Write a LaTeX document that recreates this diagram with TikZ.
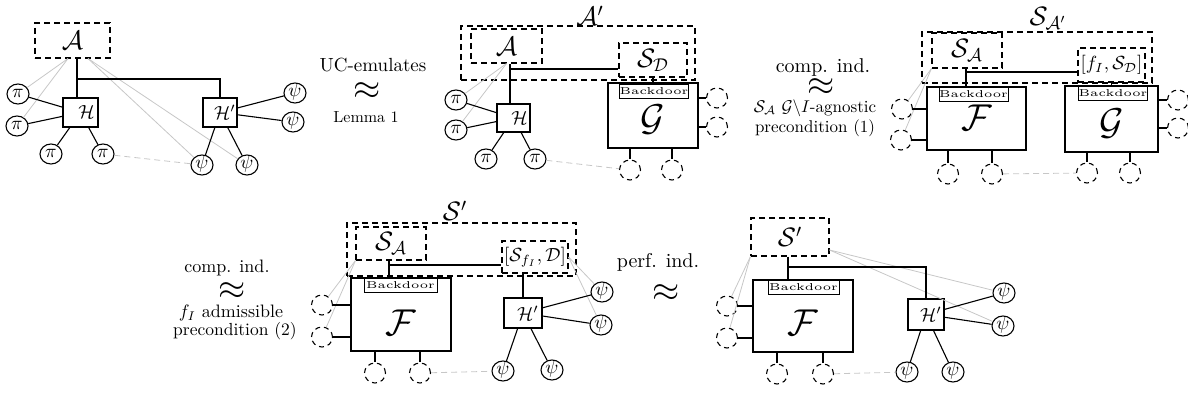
\documentclass[tikz,border=0pt]{standalone}
\usepackage{graphicx}
\usetikzlibrary{shapes.geometric}
\newcommand{\SB}[2]{\scalebox{#1}{#2}}
\newcommand{\BL}[2]{\raisebox{-#1}[0pt][0pt]{\SB{1.8}{\huge$\mathcal{#2}$}}}
\newcommand{\BD}{\scalebox{2.45}[2.0]{\tiny Backdoor}}
\tikzset{
 ln/.style={line width=1.1pt, black},
 gl/.style={line width=0.8pt, black!22},
 gld/.style={gl, dash pattern=on 6pt off 4pt},
 sbox/.style={draw, line width=1.1pt, inner sep=0pt},
 dbox/.style={draw, line width=1.1pt, dash pattern=on 6pt off 4pt, inner sep=0pt},
 bd/.style={draw, line width=1.0pt, inner sep=0pt, minimum width=69pt, minimum height=14pt},
 circ/.style={ellipse, draw, line width=1.1pt, minimum width=22pt, minimum height=20pt, inner sep=0pt, text height=6pt, text depth=-2pt},
 dcirc/.style={ellipse, draw, line width=1.1pt, dash pattern=on 5pt off 4pt, minimum width=21pt, minimum height=20pt, inner sep=0pt},
 lab/.style={inner sep=0pt},
}
\begin{document}
\begin{tikzpicture}[x=1pt,y=-1pt]
\path[use as bounding box] (0,0) rectangle (1188,396);

% ---------------- Diagram 1 ----------------
\node[dbox, minimum width=75pt, minimum height=35pt] (A1) at (72.5,40.5) {\SB{1.85}{\Large$\mathcal{A}$}};
\node[sbox, minimum width=35pt, minimum height=29pt] (H1) at (80.5,112.5) {\hspace{12pt}\SB{1.9}{$\mathcal{H}$}};
\node[sbox, minimum width=34pt, minimum height=29pt] (Hp1) at (220,112.5) {\hspace{10pt}\SB{1.9}{$\mathcal{H}'$}};
\node[circ] (p11) at (18,94) {\SB{1.9}{$\pi$}};
\node[circ] (p12) at (17,126) {\SB{1.9}{$\pi$}};
\node[circ] (p13) at (51,154) {\SB{1.9}{$\pi$}};
\node[circ] (p14) at (103,154) {\SB{1.9}{$\pi$}};
\node[circ] (s11) at (295,93) {\SB{1.9}{$\psi$}};
\node[circ] (s12) at (293,122) {\SB{1.9}{$\psi$}};
\node[circ] (s13) at (202,165) {\SB{1.9}{$\psi$}};
\node[circ] (s14) at (247,165) {\SB{1.9}{$\psi$}};
\coordinate (j1) at (77,79);
\coordinate (g1a) at ([xshift=-4.5pt]A1.south);
\coordinate (g1b) at ([xshift=15.5pt]A1.south);
\draw[gl] (g1a) -- (p11);
\draw[gl] (g1a) -- (p12);
\draw[gl] (g1b) -- (s13);
\draw[gl] (g1b) -- (s14);
\draw[gld] (p14) -- (s13);
\draw[ln] (A1.south -| j1) -- (H1.north -| j1);
\draw[ln] (j1) -| (Hp1.north);
\foreach \n in {p11,p12,p13,p14} \draw[ln] (H1) -- (\n);
\foreach \n in {s11,s12,s13,s14} \draw[ln] (Hp1) -- (\n);

% label 1
\node[lab, scale=1.9] (t1a) at (373,65) {UC-emulates};
\node[lab, scale=3.5] (t1b) at (367,91) {$\approx$};
\node[lab, scale=1.6] (t1c) at (366,117) {Lemma 1};

% ---------------- Diagram 2 ----------------
\node[dbox, minimum width=234pt, minimum height=54pt] (Ap) at (578,53) {};
\node[lab] (lAp) at (590,16) {\SB{1.85}{\Large$\mathcal{A}'$}};
\node[dbox, minimum width=71pt, minimum height=34pt] (A2) at (506.5,46) {\SB{1.85}{\Large$\mathcal{A}$}};
\node[dbox, minimum width=68pt, minimum height=34pt] (SD2) at (653,60) {\SB{1.85}{\Large$\mathcal{S}_{\mathcal{D}}$}};
\node[sbox, minimum width=33pt, minimum height=28pt] (H2) at (513.5,118) {\hspace{12pt}\SB{1.9}{$\mathcal{H}$}};
\node[sbox, minimum width=90pt, minimum height=65pt] (G2) at (653,115.5) {\BL{15pt}{G}};
\node[bd, minimum width=66pt] (BD2) at (654,91) {\BD};
\node[circ] (p21) at (456,100) {\SB{1.9}{$\pi$}};
\node[circ] (p22) at (456,130) {\SB{1.9}{$\pi$}};
\node[circ] (p23) at (486,159) {\SB{1.9}{$\pi$}};
\node[circ] (p24) at (535,159) {\SB{1.9}{$\pi$}};
\node[dcirc] (dc21) at (717,98) {};
\node[dcirc] (dc22) at (717,127) {};
\node[dcirc] (dc23) at (630,170) {};
\node[dcirc] (dc24) at (672,170) {};
\coordinate (j2) at (510,69);
\draw[gl] (A2.south) -- (p21);
\draw[gl] (A2.south) -- (p22);
\draw[gld] (p24) -- (dc23);
\draw[ln] (A2.south -| j2) -- (H2.north -| j2);
\draw[ln] (j2) -- (j2 -| SD2.west);
\draw[ln] (SD2.south) -- (SD2.south |- BD2.north);
\foreach \n in {p21,p22,p23,p24} \draw[ln] (H2) -- (\n);
\draw[ln] (G2.east |- dc21) -- (dc21.west);
\draw[ln] (G2.east |- dc22) -- (dc22.west);
\draw[ln] (G2.south -| dc23) -- (dc23.north);
\draw[ln] (G2.south -| dc24) -- (dc24.north);

% label 2
\node[lab, scale=2] (t2a) at (823,67) {comp. ind.};
\node[lab, scale=3.5] (t2b) at (821,87) {$\approx$};
\node[lab, scale=1.7] (t2c) at (815,108) {$\mathcal{S}_{\mathcal{A}}$ $\mathcal{G}\backslash I$-agnostic};
\node[lab, scale=1.7] (t2d) at (815,128) {precondition (1)};

% ---------------- Diagram 3 ----------------
\node[dbox, minimum width=230pt, minimum height=51pt] (SAp) at (1037,57.5) {};
\node[lab] (lSAp) at (1048,18) {\SB{1.85}{\Large$\mathcal{S}_{\mathcal{A}'}$}};
\node[dbox, minimum width=70pt, minimum height=35pt] (SA3) at (967,50.5) {\SB{1.85}{\Large$\mathcal{S}_{\mathcal{A}}$}};
\node[dbox, minimum width=67pt, minimum height=34pt] (fS3) at (1111.5,65) {\SB{1.9}{$[f_I,\mathcal{S}_{\mathcal{D}}]$}};
\node[sbox, minimum width=99pt, minimum height=63pt] (F3) at (976.5,118.5) {\BL{12pt}{F}};
\node[bd] (BDF3) at (973.5,94.5) {\BD};
\node[sbox, minimum width=93pt, minimum height=66pt] (G3) at (1111.5,119) {\BL{15pt}{G}};
\node[bd, minimum width=68pt] (BDG3) at (1113,93.5) {\BD};
\node[dcirc] (dc31) at (902,109) {};
\node[dcirc] (dc32) at (901,140) {};
\node[dcirc] (dc33) at (948,174) {};
\node[dcirc] (dc34) at (992,174) {};
\node[dcirc] (dc35) at (1178,100) {};
\node[dcirc] (dc36) at (1178,128) {};
\node[dcirc] (dc37) at (1087,173) {};
\node[dcirc] (dc38) at (1130,173) {};
\coordinate (j3) at (966,72);
\draw[gl] (SA3.south west) -- (dc31);
\draw[gl] (SA3.south west) -- (dc32);
\draw[gld] (dc34) -- (dc37);
\draw[ln] (SA3.south -| j3) -- (BDF3.north -| j3);
\draw[ln] (j3) -- (j3 -| fS3.west);
\draw[ln] (fS3.south) -- (fS3.south |- BDG3.north);
\draw[ln] (F3.west |- dc31) -- (dc31.east);
\draw[ln] (F3.west |- dc32) -- (dc32.east);
\draw[ln] (F3.south -| dc33) -- (dc33.north);
\draw[ln] (F3.south -| dc34) -- (dc34.north);
\draw[ln] (G3.east |- dc35) -- (dc35.west);
\draw[ln] (G3.east |- dc36) -- (dc36.west);
\draw[ln] (G3.south -| dc37) -- (dc37.north);
\draw[ln] (G3.south -| dc38) -- (dc38.north);

% label 3
\node[lab, scale=1.8] (t3a) at (227,268) {comp. ind.};
\node[lab, scale=3.5] (t3b) at (232,291) {$\approx$};
\node[lab, scale=1.8] (t3c) at (231,313) {$f_I$ admissible};
\node[lab, scale=1.75] (t3d) at (235,331) {precondition (2)};

% ---------------- Diagram 4 ----------------
\node[dbox, minimum width=229pt, minimum height=53pt] (Sp4) at (461.5,249.5) {};
\node[lab] (lSp4) at (455,211) {\SB{1.85}{\Large$\mathcal{S}'$}};
\node[dbox, minimum width=70pt, minimum height=33pt] (SA4) at (391,243.5) {\SB{1.85}{\Large$\mathcal{S}_{\mathcal{A}}$}};
\node[dbox, minimum width=66pt, minimum height=32pt] (SfD4) at (535,257) {\SB{1.9}{$[\mathcal{S}_{f_I},\mathcal{D}]$}};
\node[sbox, minimum width=100pt, minimum height=73pt] (F4) at (401,314.5) {\BL{21pt}{F}};
\node[bd, minimum width=73pt] (BD4) at (400.5,285.5) {\BD};
\node[sbox, minimum width=38pt, minimum height=30pt] (Hp4) at (523,313) {\hspace{10pt}\SB{1.9}{$\mathcal{H}'$}};
\node[circ] (s41) at (602,292) {\SB{1.9}{$\psi$}};
\node[circ] (s42) at (601,325) {\SB{1.9}{$\psi$}};
\node[circ] (s43) at (503,371) {\SB{1.9}{$\psi$}};
\node[circ] (s44) at (552,370) {\SB{1.9}{$\psi$}};
\node[dcirc] (dc41) at (322,305) {};
\node[dcirc] (dc42) at (322,337) {};
\node[dcirc] (dc43) at (375,373) {};
\node[dcirc] (dc44) at (420,373) {};
\coordinate (j4) at (389,265);
\draw[gl] (SA4.south west) -- (dc41);
\draw[gl] (SA4.south west) -- (dc42);
\draw[gl] (SfD4.east) -- (s41);
\draw[gl] (SfD4.east) -- (s42);
\draw[gld] (dc44) -- (s43);
\draw[ln] (SA4.south -| j4) -- (BD4.north -| j4);
\draw[ln] (j4) -- (j4 -| SfD4.west);
\draw[ln] (SfD4.south -| Hp4.north) -- (Hp4.north);
\foreach \n in {s41,s42,s43,s44} \draw[ln] (Hp4) -- (\n);
\draw[ln] (F4.west |- dc41) -- (dc41.east);
\draw[ln] (F4.west |- dc42) -- (dc42.east);
\draw[ln] (F4.south -| dc43) -- (dc43.north);
\draw[ln] (F4.south -| dc44) -- (dc44.north);

% label 4
\node[lab, scale=2] (t4a) at (658,262) {perf. ind.};
\node[lab, scale=3.5] (t4b) at (666,293) {$\approx$};

% ---------------- Diagram 5 ----------------
\node[dbox, minimum width=78pt, minimum height=38pt] (Sp5) at (790,237) {\SB{1.85}{\Large$\mathcal{S}'$}};
\node[sbox, minimum width=100pt, minimum height=72pt] (F5) at (803,316) {\BL{19.6pt}{F}};
\node[bd, minimum width=71pt] (BD5) at (803.5,287.5) {\BD};
\node[sbox, minimum width=36pt, minimum height=31pt] (Hp5) at (926,314.5) {\hspace{10pt}\SB{1.9}{$\mathcal{H}'$}};
\node[circ] (s51) at (1004,293) {\SB{1.9}{$\psi$}};
\node[circ] (s52) at (1003,326) {\SB{1.9}{$\psi$}};
\node[circ] (s53) at (907,372) {\SB{1.9}{$\psi$}};
\node[circ] (s54) at (953,372) {\SB{1.9}{$\psi$}};
\node[dcirc] (dc51) at (727,306) {};
\node[dcirc] (dc52) at (727,338) {};
\node[dcirc] (dc53) at (777,374) {};
\node[dcirc] (dc54) at (823,374) {};
\coordinate (j5) at (788,267);
\coordinate (g5) at ([yshift=-13pt]Sp5.east);
\draw[gl] (Sp5.south west) -- (dc51);
\draw[gl] (Sp5.south west) -- (dc52);
\draw[gl] (g5) -- (s51);
\draw[gl] (g5) -- (s52);
\draw[gld] (dc54) -- (s53);
\draw[ln] (Sp5.south -| j5) -- (BD5.north -| j5);
\draw[ln] (j5) -| (Hp5.north);
\foreach \n in {s51,s52,s53,s54} \draw[ln] (Hp5) -- (\n);
\draw[ln] (F5.west |- dc51) -- (dc51.east);
\draw[ln] (F5.west |- dc52) -- (dc52.east);
\draw[ln] (F5.south -| dc53) -- (dc53.north);
\draw[ln] (F5.south -| dc54) -- (dc54.north);
\end{tikzpicture}
\end{document}
